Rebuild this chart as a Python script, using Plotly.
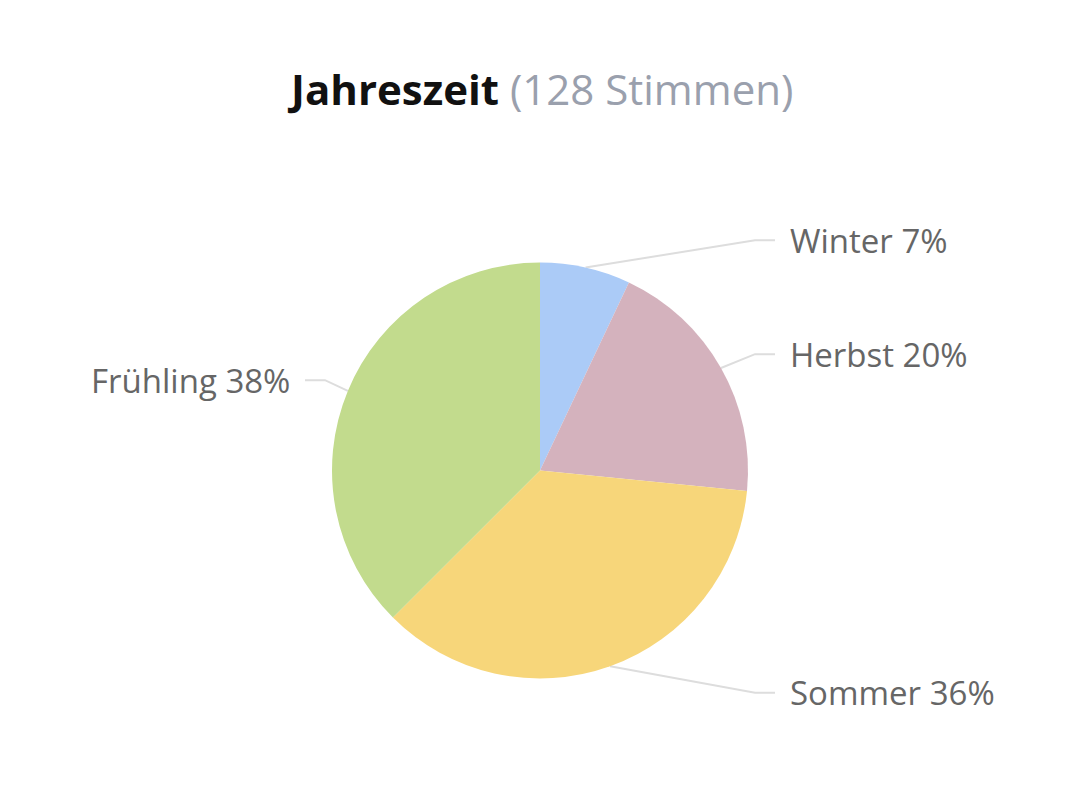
import math
import plotly.graph_objects as go

# Umfrage: Jahreszeit (128 Stimmen)
seasons = ["Winter", "Herbst", "Sommer", "Frühling"]
votes = [9, 25, 46, 48]
colors = ["#abcbf7", "#d4b2bd", "#f7d67a", "#c2db8d"]

W, H = 1080, 799
cx, cy, r = 540, 470.5, 208   # pie centre / radius in pixels

total = sum(votes)
pcts = [round(v / total * 100) for v in votes]

fig = go.Figure()

# the pie itself, placed by its domain
fig.add_trace(go.Pie(
    labels=seasons, values=votes, sort=False, direction="clockwise",
    marker=dict(colors=colors, line=dict(width=0)),
    textinfo="none", hoverinfo="label+percent", showlegend=False,
    domain=dict(x=[(cx - r) / W, (cx + r) / W],
                y=[(H - cy - r) / H, (H - cy + r) / H]),
))

# connectors + labels, from the slice mid angles
annotations = []
start = 0.0
for name, v, p in zip(seasons, votes, pcts):
    frac = v / total
    mid = (start + frac / 2) * 2 * math.pi
    start += frac
    sx, sy = cx + r * math.sin(mid), cy - r * math.cos(mid)
    ly = cy - (r + 28) * math.cos(mid)
    side = 1 if math.sin(mid) >= 0 else -1
    fig.add_trace(go.Scatter(
        x=[sx, cx + side * 215, cx + side * 235], y=[sy, ly, ly],
        mode="lines", line=dict(color="#dddddd", width=2),
        hoverinfo="skip", showlegend=False))
    annotations.append(dict(
        x=cx + side * 248, y=ly, xref="x", yref="y",
        text=f"{name} {p}%", showarrow=False,
        xanchor="left" if side > 0 else "right", yanchor="middle",
        font=dict(family="Open Sans", size=33, color="#666666")))

annotations.append(dict(
    x=0.5, y=88, xref="paper", yref="y", showarrow=False,
    text="<b>Jahreszeit</b> <span style='color:#9aa0ad'>(%d Stimmen)</span>" % total,
    font=dict(family="Open Sans", size=42, color="#111111"),
    xanchor="center", yanchor="middle"))

fig.update_layout(
    width=W, height=H, margin=dict(l=0, r=0, t=0, b=0),
    paper_bgcolor="white", plot_bgcolor="white",
    xaxis=dict(range=[0, W], visible=False, fixedrange=True),
    yaxis=dict(range=[H, 0], visible=False, fixedrange=True),
    annotations=annotations,
)

# drop the default page margin so the figure sits at 0,0
fig.write_html("out.html", config={"displayModeBar": False},
               post_script="document.body.style.margin='0';")
